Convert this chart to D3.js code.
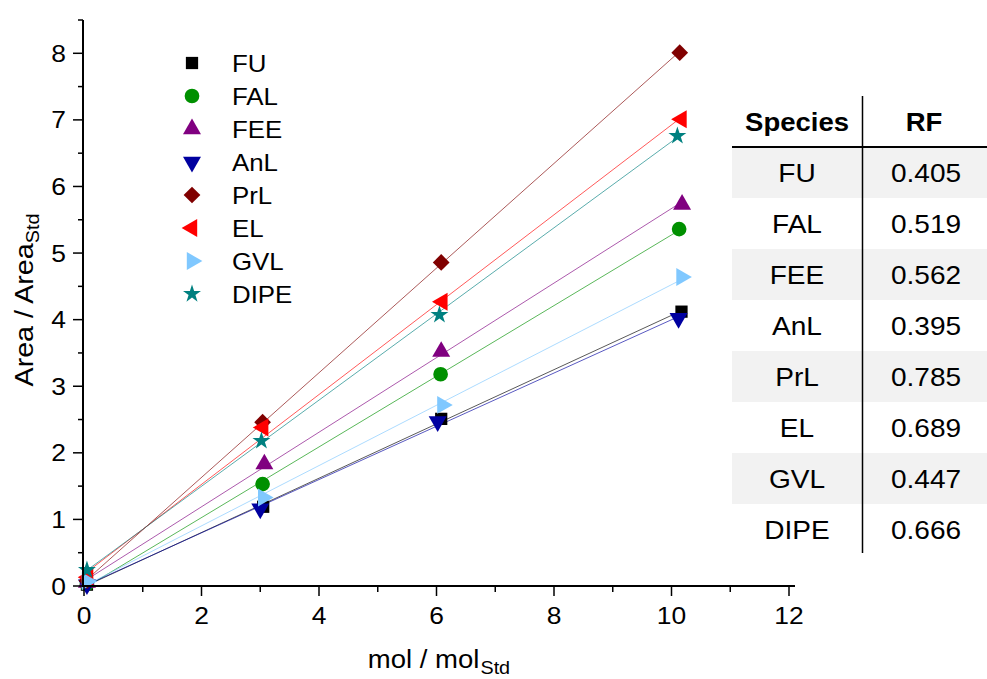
<head>
    <script src="https://d3js.org/d3.v7.min.js"></script>
</head>
<body style="margin:0">
<script>
    // species, RF table and the calibration points
    let species = ["FU", "FAL", "FEE", "AnL", "PrL", "EL", "GVL", "DIPE"];
    let rfValues = ["0.405", "0.519", "0.562", "0.395", "0.785", "0.689", "0.447", "0.666"];
    let colors = ["#000000", "#009000", "#800080", "#0000a0", "#800000", "#ff0000", "#80c8ff", "#008080"];

    let xFU = [0.05, 3.05, 6.08, 10.17],   yFU = [0.02, 1.19, 2.51, 4.12];
    let xFAL = [0.05, 3.04, 6.07, 10.13],  yFAL = [0.03, 1.53, 3.18, 5.36];
    let xFEE = [0.05, 3.07, 6.08, 10.18],  yFEE = [0.05, 1.83, 3.52, 5.73];
    let xAnL = [0.05, 3.00, 6.02, 10.12],  yAnL = [0.02, 1.16, 2.47, 4.02];
    let xPrL = [0.05, 3.04, 6.08, 10.14],  yPrL = [0.08, 2.46, 4.86, 8.01];
    let xEL = [0.07, 3.05, 6.10, 10.17],   yEL = [0.13, 2.38, 4.27, 7.01];
    let xGVL = [0.05, 3.05, 6.10, 10.17],  yGVL = [0.07, 1.33, 2.72, 4.64];
    let xDIPE = [0.05, 3.02, 6.05, 10.10], yDIPE = [0.24, 2.18, 4.07, 6.76];

    let xTicks = [0, 2, 4, 6, 8, 10, 12];
    let yTicks = [0, 1, 2, 3, 4, 5, 6, 7, 8];

    let seriesX = [xFU, xFAL, xFEE, xAnL, xPrL, xEL, xGVL, xDIPE];
    let seriesY = [yFU, yFAL, yFEE, yAnL, yPrL, yEL, yGVL, yDIPE];

    let width = 987;
    let height = 679;
    let font = "'Liberation Sans', Arial, sans-serif";
    let stretch = 1.1; // the original text is a little wider than Arial

    let svg = d3.select("body").append("svg")
        .attr("width", width)
        .attr("height", height)
        .style("font-family", font);

    let x = d3.scaleLinear().domain([0, 12]).range([84, 789]);
    let y = d3.scaleLinear().domain([0, 8.5]).range([586, 20]);

    function label(g, tx, ty, str, size, anchor, rot) {
        return g.append("text")
            .attr("transform", `translate(${tx},${ty}) rotate(${rot || 0}) scale(${stretch},1)`)
            .attr("text-anchor", anchor || "start")
            .attr("font-size", size)
            .text(str);
    }

    // fit lines (least squares through each series)
    function fit(xs, ys) {
        let mx = d3.mean(xs), my = d3.mean(ys);
        let num = d3.sum(xs, (v, i) => (v - mx) * (ys[i] - my));
        let den = d3.sum(xs, v => (v - mx) * (v - mx));
        let b = num / den;
        return {slope: b, icpt: my - b * mx};
    }

    species.forEach((s, k) => {
        let f = fit(seriesX[k], seriesY[k]);
        let x0 = d3.min(seriesX[k]), x1 = d3.max(seriesX[k]);
        svg.append("line")
            .attr("x1", x(x0)).attr("y1", y(f.icpt + f.slope * x0))
            .attr("x2", x(x1)).attr("y2", y(f.icpt + f.slope * x1))
            .attr("stroke", colors[k])
            .attr("stroke-opacity", 0.65)
            .attr("stroke-width", 1);
    });

    // marker shapes
    let shapes = [
        {type: d3.symbolSquare, size: 150, rot: 0},
        {type: d3.symbolCircle, size: 170, rot: 0},
        {type: d3.symbolTriangle, size: 140, rot: 0},
        {type: d3.symbolTriangle, size: 140, rot: 180},
        {type: d3.symbolSquare, size: 140, rot: 45},
        {type: d3.symbolTriangle, size: 140, rot: -90},
        {type: d3.symbolTriangle, size: 140, rot: 90},
        {type: d3.symbolStar, size: 100, rot: 0}
    ];

    function drawMarker(g, k, cx, cy) {
        let sh = shapes[k];
        g.append("path")
            .attr("d", d3.symbol().type(sh.type).size(sh.size)())
            .attr("transform", `translate(${cx},${cy}) rotate(${sh.rot})`)
            .attr("fill", colors[k]);
    }

    species.forEach((s, k) => {
        seriesX[k].forEach((v, i) => {
            drawMarker(svg, k, x(v), y(seriesY[k][i]));
        });
    });

    // axes
    let xAxis = svg.append("g").attr("transform", "translate(0,586)");
    xAxis.append("line").attr("x1", 83).attr("x2", 795).attr("stroke", "black").attr("stroke-width", 2);
    d3.range(0, 12.5, 1).forEach(v => {
        let major = v % 2 === 0;
        xAxis.append("line")
            .attr("x1", x(v)).attr("x2", x(v))
            .attr("y1", 0).attr("y2", major ? 10 : 6)
            .attr("stroke", "black").attr("stroke-width", 1.5);
    });
    xTicks.forEach(d => label(xAxis, x(d), 37.5, d, 24, "middle"));

    let yAxis = svg.append("g").attr("transform", "translate(83,0)");
    yAxis.append("line").attr("y1", 20).attr("y2", 587).attr("stroke", "black").attr("stroke-width", 2);
    d3.range(0, 8.6, 0.5).forEach(v => {
        let major = Math.abs(v - Math.round(v)) < 1e-6;
        yAxis.append("line")
            .attr("y1", y(v)).attr("y2", y(v))
            .attr("x1", 0).attr("x2", major ? -10 : -5)
            .attr("stroke", "black").attr("stroke-width", 1.5);
    });
    yTicks.forEach(d => label(yAxis, -17, y(d) + 8.6, d, 24, "end"));

    // axis titles
    let xt = label(svg, 439, 668, "", 25, "middle");
    xt.append("tspan").text("mol / mol");
    xt.append("tspan").attr("font-size", 18).attr("dx", 1).attr("dy", 6).text("Std");

    let yt = label(svg, 33, 300, "", 26, "middle", -90);
    yt.append("tspan").text("Area / Area");
    yt.append("tspan").attr("font-size", 18).attr("dy", 6).text("Std");

    // legend
    species.forEach((s, k) => {
        let ly = 63 + k * 33;
        drawMarker(svg, k, 192, ly);
        label(svg, 232, ly + 8.5, s, 23.5);
    });

    // RF table
    let rowTop = 147, rowH = 51;
    species.forEach((s, k) => {
        let ry = rowTop + k * rowH;
        if (k % 2 === 0) {
            svg.append("rect")
                .attr("x", 732).attr("y", ry)
                .attr("width", width - 732).attr("height", rowH)
                .attr("fill", "#f2f2f2");
        }
        label(svg, 797, ry + rowH / 2 + 9, s, 25.5, "middle");
        label(svg, 926, ry + rowH / 2 + 9, rfValues[k], 25.5, "middle");
    });
    svg.append("line")
        .attr("x1", 732).attr("x2", width)
        .attr("y1", rowTop).attr("y2", rowTop)
        .attr("stroke", "black").attr("stroke-width", 2);
    svg.append("line")
        .attr("x1", 862.5).attr("x2", 862.5)
        .attr("y1", 96).attr("y2", 553)
        .attr("stroke", "black").attr("stroke-width", 1.5);
    label(svg, 797, 131, "Species", 25, "middle").attr("font-weight", "bold");
    label(svg, 924, 131, "RF", 25, "middle").attr("font-weight", "bold");
</script>
</body>
</html>
